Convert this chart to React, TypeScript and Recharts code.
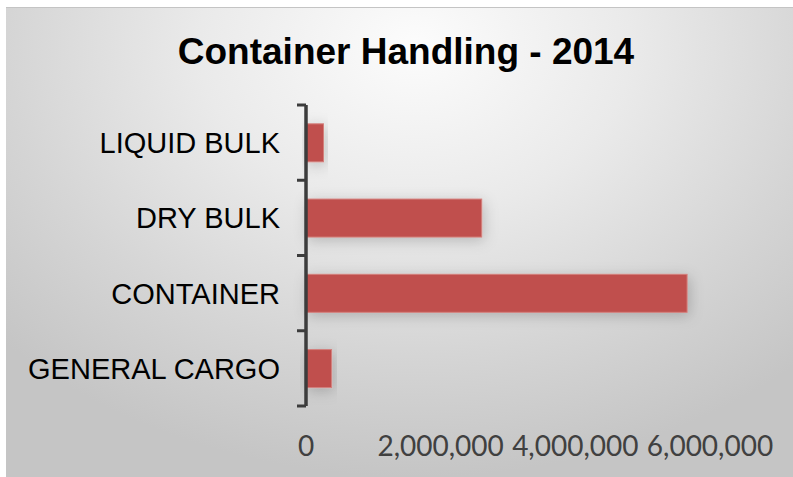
import React from 'react';
import { BarChart, Bar, XAxis, YAxis } from 'recharts';

// cargo handled in 2014, top to bottom as drawn
const categories = ['LIQUID BULK', 'DRY BULK', 'CONTAINER', 'GENERAL CARGO'];
const tonnage = [260000, 2610000, 5660000, 380000];
const xTicks = [0, 2000000, 4000000, 6000000];

const data = categories.map((name, i) => ({ name, value: tonnage[i] }));

const CHART_W = 787;
const CHART_H = 470;
const MARGIN = { top: 97, right: 83, left: 0, bottom: 0 };
const X_AXIS_H = 72;
const PLOT_H = CHART_H - MARGIN.top - MARGIN.bottom - X_AXIS_H;
const BAND = PLOT_H / categories.length;

const AXIS_COLOR = '#3c3c3c';

const CategoryTick = (props: any) => {
  const { x, y, payload, index } = props;
  const isLast = index === categories.length - 1;
  return (
    <g>
      <line x1={x - 9} x2={x} y1={y - BAND / 2} y2={y - BAND / 2} stroke={AXIS_COLOR} strokeWidth={3} />
      {isLast && (
        <line x1={x - 9} x2={x} y1={y + BAND / 2} y2={y + BAND / 2} stroke={AXIS_COLOR} strokeWidth={3} />
      )}
      <text
        x={x - 26}
        y={y}
        dy={10.5}
        textAnchor="end"
        fill="#000"
        fontFamily="'Liberation Sans', Arial, sans-serif"
        fontSize={29}
      >
        {payload.value}
      </text>
    </g>
  );
};

const ValueTick = (props: any) => {
  const { x, y, payload } = props;
  return (
    <text
      x={x}
      y={y + 50}
      textAnchor="middle"
      fill="#404040"
      fontFamily="Lato, 'Open Sans', sans-serif"
      fontSize={28}
    >
      {payload.value.toLocaleString('en-US')}
    </text>
  );
};

const ShadowBar = (props: any) => {
  const { x, y, width, height } = props;
  if (!width || width <= 0) return null;
  return (
    <rect
      x={x}
      y={y}
      width={width}
      height={height}
      fill="#C0504D"
      stroke="#d4807d"
      strokeWidth={1}
      filter="url(#barShadow)"
    />
  );
};

export default function App() {
  return (
    <div style={{ position: 'absolute', left: 0, top: 0, width: 793, height: 477, background: '#fff' }}>
      <div
        style={{
          position: 'absolute',
          left: 6,
          top: 7,
          width: CHART_W,
          height: CHART_H,
          borderTop: '1px solid #c4c4c4',
          boxSizing: 'border-box',
          background:
            'radial-gradient(ellipse 72% 92% at 52% 8%, #fcfcfc 0%, #eaeaea 38%, #d5d5d5 72%, #c5c5c5 100%)',
        }}
      >
        <div
          style={{
            position: 'absolute',
            left: 0,
            top: 25,
            width: 800,
            textAlign: 'center',
            fontFamily: "'Liberation Sans', Arial, sans-serif",
            fontWeight: 'bold',
            fontSize: 37,
            lineHeight: '37px',
            color: '#000',
          }}
        >
          Container Handling - 2014
        </div>
        <div style={{ position: 'absolute', left: 0, top: 0 }}>
          <BarChart width={CHART_W} height={CHART_H} data={data} layout="vertical" margin={MARGIN} barCategoryGap="25%">
            <defs>
              <filter id="barShadow" x="-20%" y="-60%" width="140%" height="220%">
                <feDropShadow dx={2} dy={3} stdDeviation={7} floodColor="#000" floodOpacity={0.2} />
              </filter>
            </defs>
            <XAxis
              type="number"
              domain={[0, 6000000]}
              ticks={xTicks}
              axisLine={false}
              tickLine={false}
              tickSize={0}
              tickMargin={0}
              height={X_AXIS_H}
              tick={<ValueTick />}
              interval={0}
            />
            <YAxis
              type="category"
              dataKey="name"
              width={300}
              axisLine={{ stroke: AXIS_COLOR, strokeWidth: 3.5 }}
              tickLine={false}
              tickSize={0}
              tickMargin={0}
              tick={<CategoryTick />}
              interval={0}
            />
            <Bar dataKey="value" isAnimationActive={false} shape={<ShadowBar />} />
          </BarChart>
        </div>
      </div>
    </div>
  );
}
